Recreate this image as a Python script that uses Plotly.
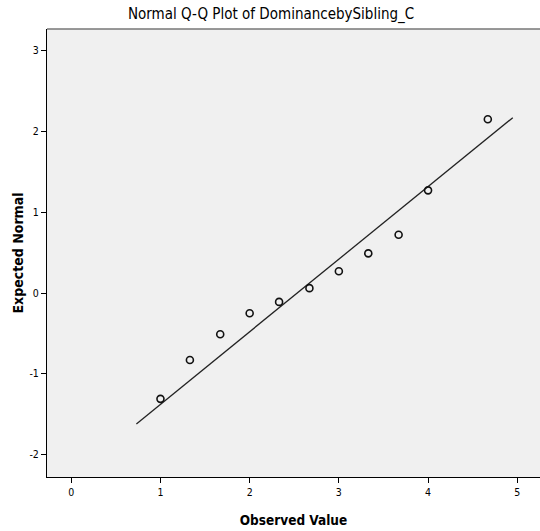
import plotly.graph_objects as go

title = "Normal Q-Q Plot of DominancebySibling_C"
observed = [1.0, 1.33, 1.67, 2.0, 2.33, 2.67, 3.0, 3.33, 3.67, 4.0, 4.67]
expected = [-1.31, -0.83, -0.51, -0.25, -0.11, 0.06, 0.27, 0.49, 0.72, 1.27, 2.15]
line_x = [0.73, 4.95]
line_y = [-1.62, 2.17]
x_ticks = [0, 1, 2, 3, 4, 5]
y_ticks = [-2, -1, 0, 1, 2, 3]
y_tick_labels = ["-2", "-1", "0", "1", "2", "3"]

FONT = "DejaVu Sans Condensed, Liberation Sans, Arial, sans-serif"

fig = go.Figure()
fig.add_trace(go.Scatter(x=line_x, y=line_y, mode="lines",
                         line=dict(color="#222222", width=1.3), hoverinfo="skip"))
fig.add_trace(go.Scatter(x=observed, y=expected, mode="markers",
                         marker=dict(symbol="circle-open", size=7,
                                     color="#111111", line=dict(width=1.6))))

fig.update_layout(
    width=540, height=531,
    margin=dict(l=47, r=0, t=29, b=54, autoexpand=False),
    paper_bgcolor="white", plot_bgcolor="#F0F0F0",
    showlegend=False,
    font=dict(family=FONT, color="black"),
    title=dict(text=title, x=0.502, xanchor="center", y=0.9736, yanchor="middle",
               font=dict(size=15, family=FONT, color="black")),
    xaxis=dict(range=[-0.272, 5.255], tickvals=x_ticks, showgrid=False, zeroline=False,
               automargin=False,
               showline=True, linecolor="black", linewidth=1.2,
               ticks="outside", ticklen=5, tickcolor="black",
               tickfont=dict(size=10.5, family=FONT),
               title=dict(text="<b>Observed Value</b>", font=dict(size=13.5, family=FONT),
                          standoff=18)),
    yaxis=dict(range=[-2.277, 3.267], tickvals=y_ticks, ticktext=y_tick_labels,
               showgrid=False, zeroline=False, automargin=False,
               showline=True, linecolor="black", linewidth=1.2,
               ticks="outside", ticklen=5, tickcolor="black",
               tickfont=dict(size=10.5, family=FONT),
               title=dict(text="<b>Expected Normal</b>", font=dict(size=14, family=FONT),
                          standoff=2)),
    shapes=[dict(type="line", xref="paper", yref="paper", x0=0, x1=1, y0=1, y1=1,
                 line=dict(color="#777777", width=1.5))],
)

fig.write_html("out.html", config={"displayModeBar": False},
               post_script="document.body.style.margin='0';document.body.style.overflow='hidden';")
